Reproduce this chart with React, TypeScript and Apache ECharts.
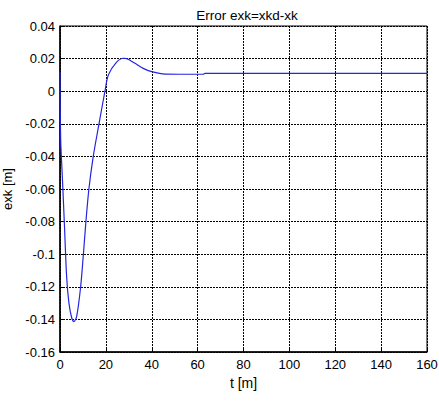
import React, { useEffect, useRef } from "react";
import * as echarts from "echarts";

const tValues = [0, 0.3, 1.0, 1.9, 2.9, 3.9, 5.1, 6.1, 7.3, 9.0, 10.2, 11.3, 12.6, 14.5, 17.0, 19.6, 21.1, 24.5, 27.6, 29.1, 32.7, 36.3, 40.0, 45.8, 55.0, 62.5, 63.2, 80, 100, 120, 140, 160];
const exkValues = [0.012, -0.03, -0.052, -0.081, -0.114, -0.13, -0.139, -0.1414, -0.138, -0.12, -0.1, -0.08, -0.06, -0.04, -0.02, 0, 0.01, 0.0175, 0.0202, 0.02, 0.0171, 0.014, 0.012, 0.0105, 0.0104, 0.0104, 0.0109, 0.0109, 0.0109, 0.0109, 0.0109, 0.0109];
const xTicks = { min: 0, max: 160, interval: 20 };
const yTicks = { min: -0.16, max: 0.04, interval: 0.02 };

const FONT = "'Liberation Sans', Arial, sans-serif";

export default function App() {
  const ref = useRef<HTMLDivElement>(null);
  useEffect(() => {
    if (!ref.current) return;
    const chart = echarts.init(ref.current, null, { renderer: "svg" });
    const gridLine = { show: true, lineStyle: { color: "#000", type: [2, 1] as any, width: 1 } };
    chart.setOption({
      animation: false,
      backgroundColor: "#fff",
      title: {
        text: "Error exk=xkd-xk",
        left: 242,
        top: 3,
        textAlign: "center",
        textStyle: { fontFamily: FONT, fontSize: 13.5, fontWeight: "normal", color: "#000" },
      },
      grid: {
        left: 60,
        right: 12,
        top: 26,
        bottom: 56,
        show: true,
        borderColor: "#000",
        borderWidth: 1,
        backgroundColor: "transparent",
        containLabel: false,
        outerBoundsMode: "none",
      },
      xAxis: {
        type: "value",
        min: xTicks.min,
        max: xTicks.max,
        interval: xTicks.interval,
        name: "t [m]",
        nameLocation: "middle",
        nameGap: 24,
        nameTextStyle: { fontFamily: FONT, fontSize: 14, color: "#000" },
        axisLine: { show: true, onZero: false, lineStyle: { color: "#000", width: 1.5 } },
        axisTick: { show: true, inside: true, length: 4, lineStyle: { color: "#000" } },
        axisLabel: { fontFamily: FONT, fontSize: 13, color: "#000", margin: 6 },
        splitLine: gridLine,
      },
      yAxis: {
        type: "value",
        min: yTicks.min,
        max: yTicks.max,
        interval: yTicks.interval,
        name: "exk [m]",
        nameLocation: "middle",
        nameRotate: 90,
        nameGap: 44,
        nameTextStyle: { fontFamily: FONT, fontSize: 13, color: "#000" },
        axisLine: { show: true, onZero: false, lineStyle: { color: "#000", width: 1.5 } },
        axisTick: { show: true, inside: true, length: 4, lineStyle: { color: "#000" } },
        axisLabel: {
          fontFamily: FONT,
          fontSize: 13,
          color: "#000",
          margin: 5,
          formatter: (v: number) => {
            const r = Math.round(v * 100) / 100;
            return r === 0 ? "0" : String(r);
          },
        },
        splitLine: gridLine,
      },
      series: [
        {
          type: "line",
          data: tValues.map((t, i) => [t, exkValues[i]]),
          showSymbol: false,
          smooth: 0.3,
          lineStyle: { color: "#2525e0", width: 1.2 },
        },
      ],
    });
    return () => chart.dispose();
  }, []);
  return <div ref={ref} style={{ width: 439, height: 408, position: "absolute", left: 0, top: 0 }} />;
}
